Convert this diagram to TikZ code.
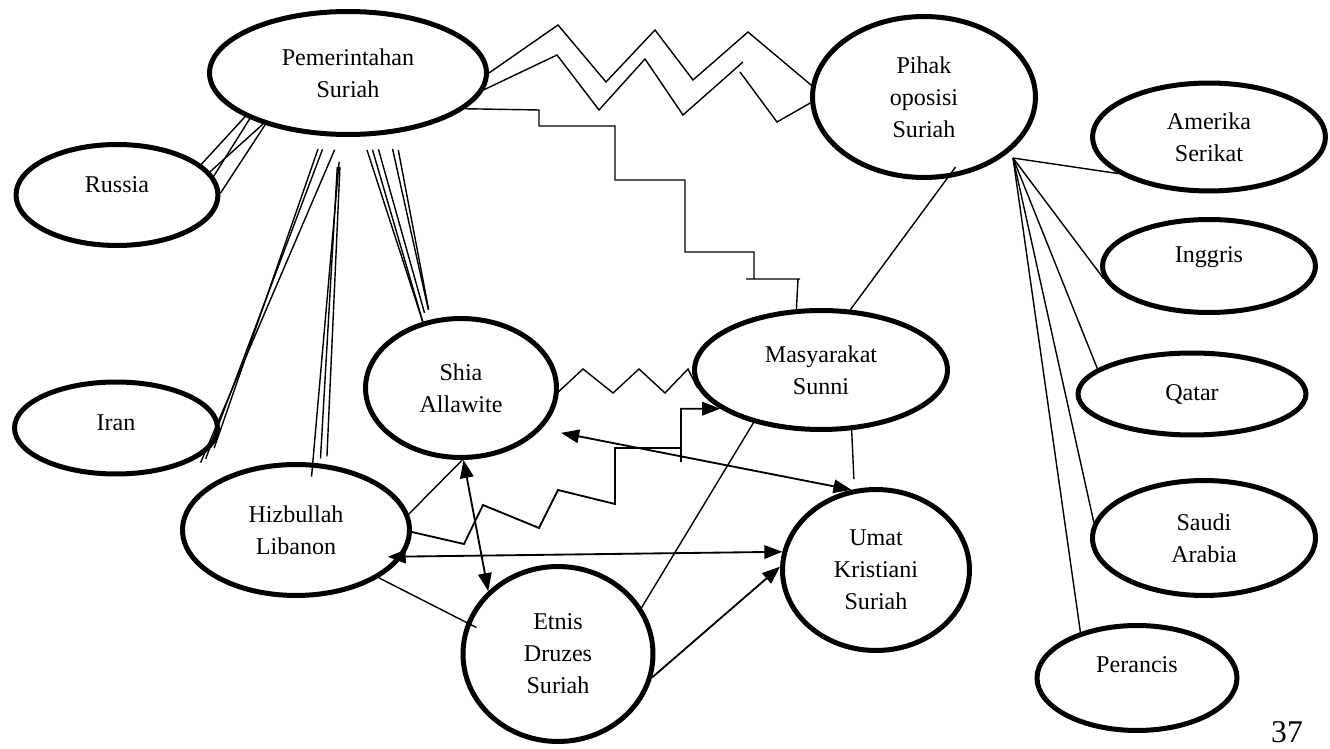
\documentclass[tikz,border=0pt]{standalone}
\usepackage{fontspec}
\setmainfont{Liberation Serif}
\usetikzlibrary{shapes.geometric,arrows.meta}
\tikzset{
  actor/.style={ellipse, draw, line width=2.85pt, align=center, inner sep=0pt,
    font=\fontsize{13.7pt}{18.2pt}\selectfont},
  tie/.style={line width=0.8pt},
  pull/.style={line width=1.05pt, -{Triangle[length=0.36cm,width=0.27cm]}},
  pullboth/.style={line width=1.05pt,
    {Triangle[length=0.36cm,width=0.27cm]}-{Triangle[length=0.36cm,width=0.27cm]}},
}
\begin{document}
\begin{tikzpicture}[x=0.02cm, y=-0.02cm]
  \useasboundingbox (0,0) rectangle (1330,749);
  % actors
  \node[actor, minimum width=5.54cm, minimum height=2.46cm] (pem) at (348,73) {Pemerintahan\\Suriah};
  \node[actor, minimum width=4.46cm, minimum height=3.22cm] (pihak) at (924,97) {Pihak\\oposisi\\Suriah};
  \node[actor, minimum width=4.04cm, minimum height=2.02cm, text depth=0.4cm] (russia) at (117,195) {Russia};
  \node[actor, minimum width=4.06cm, minimum height=1.84cm, text depth=0.2cm] (iran) at (116,428) {Iran};
  \node[actor, minimum width=4.54cm, minimum height=2.62cm] (hizb) at (296,530) {Hizbullah\\Libanon};
  \node[actor, minimum width=3.82cm, minimum height=2.78cm] (shia) at (461,388) {Shia\\Allawite};
  \node[actor, minimum width=5.06cm, minimum height=2.38cm] (sunni) at (821,370) {Masyarakat\\Sunni};
  \node[actor, minimum width=3.74cm, minimum height=3.22cm] (umat) at (876,570) {Umat\\Kristiani\\Suriah};
  \node[actor, minimum width=3.80cm, minimum height=3.50cm] (druzes) at (558,654) {Etnis\\Druzes\\Suriah};
  \node[actor, minimum width=4.66cm, minimum height=2.16cm] (amerika) at (1209,137) {Amerika\\Serikat};
  \node[actor, minimum width=4.26cm, minimum height=1.86cm, text depth=0.46cm] (inggris) at (1209,266) {Inggris};
  \node[actor, minimum width=4.56cm, minimum height=1.64cm] (qatar) at (1192,394) {Qatar};
  \node[actor, minimum width=4.46cm, minimum height=2.30cm] (saudi) at (1204,538) {Saudi\\Arabia};
  \node[actor, minimum width=4.00cm, minimum height=2.10cm, text depth=0.52cm] (perancis) at (1137,678) {Perancis};
  \node[font=\fontsize{18pt}{20pt}\selectfont, inner sep=0pt] (page) at (1287,732) {37};

  % conflict with the opposition
  \draw[tie] (pem.east) -- (558,25) -- (606,82) -- (655,30) -- (693,80) -- (748,32) -- (pihak.174);
  \draw[tie] (pem.-7) -- (557,55) -- (599,110) -- (645,59) -- (683,115) -- (743,62)
    (740,72) -- (777,122) -- (pihak.183);
  \draw[tie] (pem.-17) -- (539,110) -- (539,126) -- (615,126) -- (615,180) -- (685,180)
    -- (685,252) -- (754,252) -- (754,279) (746,279) -- (800,279) (798,279) -- (sunni.112);

  % allies of the government
  \draw[tie] (pem.203) -- (russia.20);
  \draw[tie] (pem.205) -- (russia.11);
  \draw[tie] (pem.212) -- (russia.1);
  \draw[tie] (pem.211) -- (russia.14);
  \draw[tie, shorten <=0.28cm, shorten >=-0.2cm] (pem.-112) -- (iran.-6);
  \draw[tie, shorten <=0.28cm, shorten >=-0.2cm] (pem.-108) -- (iran.-13);
  \draw[tie, shorten <=0.28cm, shorten >=-0.2cm] (pem.-97) -- (iran.-16);
  \draw[tie, shorten <=0.5cm, shorten >=-0.28cm] (pem.-96) -- (hizb.76);
  \draw[tie, shorten <=0.6cm, shorten >=0.1cm] (pem.-98) -- (hizb.70);
  \draw[tie, shorten <=0.6cm, shorten >=0.16cm] (pem.-96) -- (hizb.65);
  \draw[tie, shorten <=0.28cm] (pem.-77) -- (shia.120);
  \draw[tie, shorten <=0.28cm] (pem.-72) -- (shia.120);
  \draw[tie, shorten <=0.28cm, shorten >=0.16cm] (pem.-67) -- (shia.117);
  \draw[tie, shorten <=0.3cm, shorten >=0.2cm] (pem.-56) -- (shia.114);
  \draw[tie, shorten <=0.34cm, shorten >=0.2cm] (pem.-52) -- (shia.114);

  % supporters of the opposition
  \draw[tie, shorten <=-0.28cm] (pihak.-74) -- (sunni.64);
  \coordinate (fan) at (1013,158);
  \draw[tie] (fan) -- (amerika.202);
  \draw[tie] (fan) -- (inggris.187);
  \draw[tie] (fan) -- (qatar.165);
  \draw[tie] (fan) -- (saudi.172);
  \draw[tie] (fan) -- (perancis.141);

  % communities
  \draw[tie] (shia.-2) -- (583,369) -- (613,393) -- (639,369) -- (665,393) -- (688,369) -- (sunni.188);
  \draw[pull] (hizb.-1) -- (464,544) -- (483,505) -- (539,528) -- (558,490) -- (615,504)
    -- (615,448) -- (680,448) (681,462) |- (sunni.201);
  \draw[pullboth, shorten <=0.4cm] (shia.-27) -- (umat.107);
  \draw[tie, shorten >=0.2cm] (sunni.-63) -- (umat.105);
  \draw[tie] (sunni.218) -- (druzes.29);
  \draw[pullboth, shorten <=-0.3cm] (hizb.-14) -- (umat.169);
  \draw[tie] (hizb.8) -- (shia.-89);
  \draw[pullboth] (shia.-88) -- (druzes.138);
  \draw[tie, shorten >=-0.22cm] (hizb.-30) -- (druzes.161);
  \draw[pull] (druzes.-14) -- (umat.178);
\end{tikzpicture}
\end{document}
